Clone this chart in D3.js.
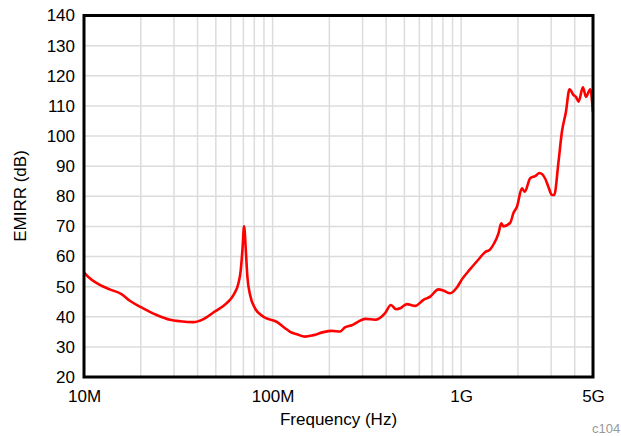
<!DOCTYPE html>
<html>
<head>
<meta charset="utf-8">
<script src="https://cdn.jsdelivr.net/npm/d3@7"></script>
<style>
  html, body { margin: 0; padding: 0; background: #fff; }
  text { font-family: "Liberation Sans", Arial, Helvetica, sans-serif; }
</style>
</head>
<body>
<svg id="chart" width="621" height="436"></svg>
<script>
// Frequency in MHz
const freqMHz = [10.0, 10.25, 12.2, 13.7, 15.8, 17.5, 20.6, 24.3, 28.6, 32.3, 38.0, 43.0, 48.5, 57.1, 62.0, 65.9, 67.8, 69.2, 70.6, 72.1, 73.5, 76.0, 80.7, 89.4, 105.3, 116.5, 123.8, 134.4, 148.7, 164.6, 186, 206, 228, 242, 263, 285, 310, 350, 395, 424, 452, 475, 515, 570, 631, 685, 758, 805, 874, 949, 1009, 1116, 1235, 1341, 1425, 1496, 1577, 1630, 1676, 1820, 1895, 1975, 2099, 2173, 2323, 2470, 2603, 2790, 2905, 3028, 3114, 3282, 3421, 3592, 3754, 3943, 4060, 4191, 4422, 4587, 4835, 4995];
const emirr = [54.8, 54.0, 50.5, 49.1, 47.5, 45.3, 42.8, 40.6, 39.0, 38.5, 38.2, 39.2, 41.4, 44.5, 47.2, 51.1, 55.5, 62.2, 70.0, 62.2, 53.3, 47.2, 42.8, 40.0, 38.3, 36.2, 35.0, 34.2, 33.4, 33.9, 34.9, 35.3, 35.1, 36.5, 37.2, 38.4, 39.3, 39.0, 41.2, 43.9, 42.5, 42.8, 44.2, 43.6, 45.6, 46.7, 49.1, 48.7, 47.8, 49.7, 52.4, 55.8, 59.0, 61.5, 62.4, 64.4, 67.7, 71.0, 70.0, 71.2, 74.5, 76.5, 82.6, 81.5, 86.0, 86.7, 87.7, 85.8, 83.0, 80.4, 80.4, 91.5, 101.4, 108.0, 115.5, 113.6, 113.0, 111.4, 116.2, 113.0, 115.5, 108.0];
const xTickValues = [10, 100, 1000, 5000];
const xTickLabels = ["10M", "100M", "1G", "5G"];
const yTickValues = [20, 30, 40, 50, 60, 70, 80, 90, 100, 110, 120, 130, 140];

const svg = d3.select("#chart");
const mLeft = 84, mRight = 593, mTop = 15.5, mBottom = 377;

const x = d3.scaleLog().domain([10, 5000]).range([mLeft, mRight]);
const y = d3.scaleLinear().domain([20, 140]).range([mBottom, mTop]);

// minor grid values
const gridX = [];
[10, 100, 1000].forEach(d => { for (let k = 1; k <= 9; k++) { const v = d * k; if (v > 10 && v < 5000) gridX.push(v); } });

const g = svg.append("g");
g.selectAll("line.gx").data(gridX).enter().append("line")
  .attr("x1", d => x(d)).attr("x2", d => x(d))
  .attr("y1", mTop).attr("y2", mBottom)
  .attr("stroke", "#dcdcdc").attr("stroke-width", 1.5);
g.selectAll("line.gy").data(yTickValues.slice(1, -1)).enter().append("line")
  .attr("x1", mLeft).attr("x2", mRight)
  .attr("y1", d => y(d)).attr("y2", d => y(d))
  .attr("stroke", "#dcdcdc").attr("stroke-width", 1.5);

// line
const data = freqMHz.map((f, i) => [f, emirr[i]]);
g.append("path").datum(data)
  .attr("fill", "none").attr("stroke", "#ff0000").attr("stroke-width", 2.6)
  .attr("stroke-linejoin", "round")
  .attr("d", d3.line().x(d => x(d[0])).y(d => y(d[1])).curve(d3.curveMonotoneX));

// frame
g.append("rect").attr("x", mLeft).attr("y", mTop)
  .attr("width", mRight - mLeft).attr("height", mBottom - mTop)
  .attr("fill", "none").attr("stroke", "#000").attr("stroke-width", 3);

// axes
const yAxis = d3.axisLeft(y).tickValues(yTickValues).tickSize(0).tickPadding(9);
const ya = svg.append("g").attr("transform", `translate(${mLeft},0)`).call(yAxis);
ya.select(".domain").remove();
ya.selectAll("text").attr("font-size", 17).attr("fill", "#000")
  .attr("font-family", "'Liberation Sans', Arial, sans-serif");

const xAxis = d3.axisBottom(x).tickValues(xTickValues)
  .tickFormat((d, i) => xTickLabels[i]).tickSize(0).tickPadding(13);
const xa = svg.append("g").attr("transform", `translate(0,${mBottom})`).call(xAxis);
xa.select(".domain").remove();
xa.selectAll("text").attr("font-size", 17).attr("fill", "#000")
  .attr("font-family", "'Liberation Sans', Arial, sans-serif");

// titles
svg.append("text").attr("x", (mLeft + mRight) / 2).attr("y", 425)
  .attr("text-anchor", "middle").attr("font-size", 17).text("Frequency (Hz)");
svg.append("text").attr("transform", "translate(26,196) rotate(-90)")
  .attr("text-anchor", "middle").attr("font-size", 17).text("EMIRR (dB)");
svg.append("text").attr("x", 592).attr("y", 433)
  .attr("font-size", 13).attr("fill", "#999").text("c104");
</script>
</body>
</html>
